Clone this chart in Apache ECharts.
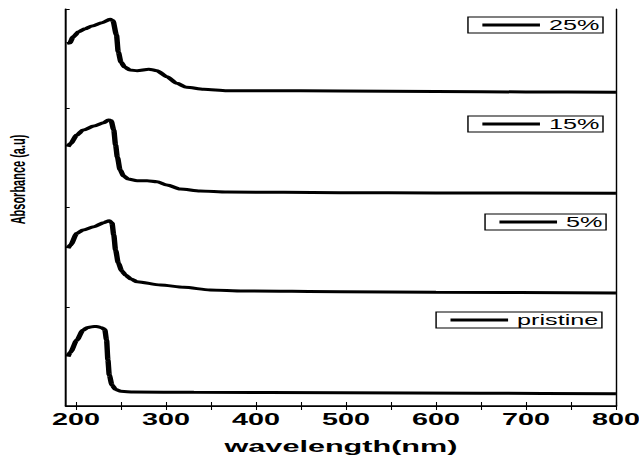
<!DOCTYPE html>
<html><head><meta charset="utf-8">
<script src="https://cdn.jsdelivr.net/npm/echarts@6/dist/echarts.min.js"></script>
<style>
html,body{margin:0;padding:0;background:#fff;overflow:hidden}
#c{width:355px;height:456px;transform:scaleX(1.8);transform-origin:0 0}
</style></head><body><div id="c"></div>
<script>
// x tick / label values (nm)
const xLabels = [200, 300, 400, 500, 600, 700, 800];
const xTicks = [200, 250, 300, 350, 400, 450, 500, 550, 600, 650, 700, 750, 800];
const seriesNames = ['25%', '15%', '5%', 'pristine'];

// 25 %
const wl25  = [190, 193, 197, 203, 210, 218, 229, 238, 241, 245, 247, 250, 254, 260, 268, 281, 290, 301, 312, 323, 342, 368, 405, 494, 600, 700, 800];
const abs25 = [3.654, 3.657, 3.72, 3.77, 3.80, 3.829, 3.862, 3.896, 3.884, 3.738, 3.567, 3.466, 3.416, 3.385, 3.378, 3.393, 3.378, 3.318, 3.251, 3.211, 3.191, 3.177, 3.177, 3.174, 3.169, 3.164, 3.161];
// 15 %
const wl15  = [191, 194, 201, 208, 220, 231, 236, 239, 242, 244, 246, 249, 253, 258, 268, 279, 290, 301, 316, 338, 368, 494, 600, 800];
const abs15 = [2.613, 2.645, 2.730, 2.781, 2.821, 2.854, 2.882, 2.877, 2.781, 2.630, 2.509, 2.378, 2.317, 2.287, 2.270, 2.270, 2.260, 2.227, 2.186, 2.166, 2.156, 2.149, 2.146, 2.143];
// 5 %
const wl5   = [191, 194, 201, 208, 220, 231, 237, 240, 242, 244, 247, 251, 255, 261, 268, 294, 320, 349, 386, 494, 600, 800];
const abs5  = [1.589, 1.622, 1.740, 1.773, 1.807, 1.847, 1.867, 1.844, 1.723, 1.572, 1.441, 1.360, 1.320, 1.280, 1.252, 1.219, 1.196, 1.169, 1.159, 1.152, 1.146, 1.139];
// pristine
const wlP   = [191, 194, 201, 208, 213, 218, 223, 228, 232, 234, 235.5, 237, 240, 244, 250, 264, 331, 494, 650, 800];
const absP  = [0.497, 0.544, 0.665, 0.766, 0.791, 0.799, 0.801, 0.789, 0.771, 0.665, 0.463, 0.312, 0.212, 0.166, 0.148, 0.141, 0.138, 0.134, 0.128, 0.124];

const xs = [wl25, wl15, wl5, wlP];
const ys = [abs25, abs15, abs5, absP];
const FONT = 'Liberation Sans, Arial, sans-serif';

const chart = echarts.init(document.getElementById('c'), null, {renderer: 'svg'});
const legendPos = [
  {right: 20, top: 17},
  {right: 20, top: 116},
  {right: 18.3, top: 214},
  {right: 20.6, top: 312}
];
const option = {
  animation: false,
  backgroundColor: '#fff',
  grid: {left: 36.7, right: 12.8, top: 9, bottom: 50, containLabel: false, outerBoundsMode: 'none'},
  xAxis: [{
    type: 'value', min: 189, max: 800, position: 'bottom',
    name: 'wavelength(nm)', nameLocation: 'middle', nameGap: 32,
    nameTextStyle: {fontFamily: FONT, fontSize: 17, fontWeight: 'bold', color: '#000'},
    axisLine: {show: true, lineStyle: {color: '#000', width: 1.6}},
    axisTick: {show: true, inside: true, length: 4, customValues: xTicks, lineStyle: {color: '#000', width: 0.6}},
    axisLabel: {customValues: xLabels, fontFamily: FONT, fontSize: 16, fontWeight: 'bold', color: '#000', margin: 6},
    splitLine: {show: false}
  }, {
    type: 'value', min: 189, max: 800, position: 'top',
    axisLine: {show: true, lineStyle: {color: '#000', width: 1}},
    axisTick: {show: true, inside: true, length: 4, customValues: xTicks, lineStyle: {color: '#000', width: 0.6}},
    axisLabel: {show: false},
    splitLine: {show: false}
  }],
  yAxis: [{
    type: 'value', min: 0, max: 4, interval: 1, position: 'left',
    name: 'Absorbance (a.u)', nameLocation: 'middle', nameGap: 21,
    nameTextStyle: {fontFamily: FONT, fontSize: 11, fontWeight: 'bold', color: '#000', padding: [0, 0, 0, 56]},
    axisLine: {show: true, lineStyle: {color: '#000', width: 1.1}},
    axisTick: {show: true, inside: true, length: 2, lineStyle: {color: '#000', width: 1}},
    axisLabel: {show: false},
    splitLine: {show: false}
  }, {
    type: 'value', min: 0, max: 4, position: 'right',
    axisLine: {show: true, lineStyle: {color: '#000', width: 0.8}},
    axisTick: {show: false}, axisLabel: {show: false}, splitLine: {show: false}
  }],
  legend: seriesNames.map((n, i) => ({
    data: [n], selectedMode: false, icon: 'rect', itemWidth: 32, itemHeight: 3,
    right: legendPos[i].right, top: legendPos[i].top,
    padding: [1, 2, 1, 8], borderColor: '#000', borderWidth: 0.8,
    textStyle: {fontFamily: FONT, fontSize: 14, color: '#000', lineHeight: 14}
  })),
  series: seriesNames.map((n, i) => ({
    name: n, type: 'line', showSymbol: false, symbol: 'none',
    smooth: 0.25, smoothMonotone: 'x',
    color: '#000',
    lineStyle: {color: '#000', width: 3},
    data: xs[i].map((x, j) => [x, ys[i][j]])
  }))
};
chart.setOption(option);
</script></body></html>
